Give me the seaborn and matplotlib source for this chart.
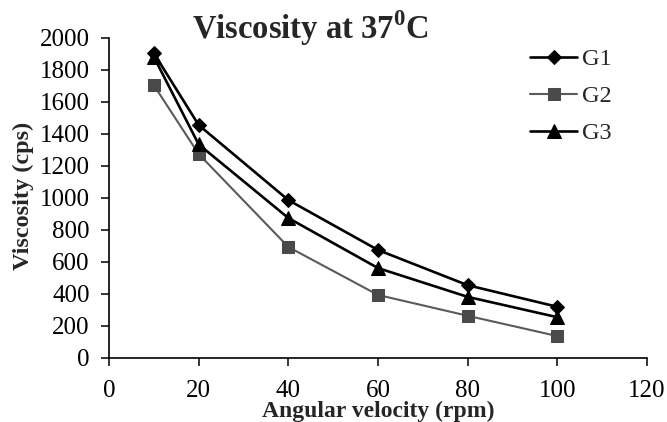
import matplotlib
matplotlib.use("Agg")
import matplotlib.pyplot as plt
import seaborn as sns
import pandas as pd

rpm = [10, 20, 40, 60, 80, 100]
g1 = [1905, 1456, 987, 675, 455, 320]
g2 = [1705, 1275, 694, 394, 264, 137]
g3 = [1882, 1335, 875, 562, 382, 255]
series = {"G1": g1, "G2": g2, "G3": g3}
x_ticks = [0, 20, 40, 60, 80, 100, 120]
y_ticks = [0, 200, 400, 600, 800, 1000, 1200, 1400, 1600, 1800, 2000]

sns.set_theme(style="ticks")
plt.rcParams["font.family"] = ["Liberation Serif", "DejaVu Serif"]
plt.rcParams["mathtext.fontset"] = "custom"
plt.rcParams["mathtext.rm"] = "Liberation Serif:bold"
plt.rcParams["mathtext.bf"] = "Liberation Serif:bold"

W, H = 667, 422
fig = plt.figure(figsize=(W / 100, H / 100), dpi=100)
ax = fig.add_axes([109 / W, 64 / H, 538 / W, 320 / H])

styles = {
    "G1": dict(color="black", face="black", marker="D", ms=7.5, lw=1.9),
    "G2": dict(color="#5a5a5a", face="#4a4a4a", marker="s", ms=9, lw=1.5),
    "G3": dict(color="black", face="black", marker="^", ms=9.5, lw=1.9),
}
for name, vals in series.items():
    df = pd.DataFrame({"rpm": rpm, "v": vals})
    st = styles[name]
    sns.lineplot(data=df, x="rpm", y="v", ax=ax, color=st["color"], marker=st["marker"],
                 markersize=st["ms"], linewidth=st["lw"],
                 markeredgecolor=st["face"], markerfacecolor=st["face"],
                 label=name)

ax.set_xlim(0, 120)
ax.set_ylim(0, 2000)
ax.set_xticks(x_ticks)
ax.set_yticks(y_ticks)
ax.tick_params(axis="both", labelsize=18, direction="out", length=5.5, width=1.1, colors="black")
ax.tick_params(axis="x", pad=10)
ax.tick_params(axis="y", pad=8.5)
for s in ["top", "right"]:
    ax.spines[s].set_visible(False)
for s in ["left", "bottom"]:
    ax.spines[s].set_linewidth(1.2)
    ax.spines[s].set_color("black")

ax.set_xlabel("Angular velocity (rpm)", fontsize=17, fontweight="bold")
ax.xaxis.set_label_coords(0.5, (358 - 411) / 320)
ax.xaxis.label.set_va("center")
ax.set_ylabel("Viscosity (cps)", fontsize=17.5, fontweight="bold")
ax.yaxis.set_label_coords((23 - 109) / 538, 0.506)
ax.yaxis.label.set_va("center")

fig.text(310 / W, 1 - 39 / H, r"Viscosity at 37$^{0}$C", fontsize=23.5, fontweight="bold",
         ha="center", va="baseline")

ax.legend(loc="upper left", bbox_to_anchor=(530 / W, 1 - 48 / H), bbox_transform=fig.transFigure,
          frameon=False, fontsize=17.5, handlelength=1.95, labelspacing=0.62, handletextpad=0.2,
          borderpad=0, borderaxespad=0)

fig.savefig("out.png", dpi=100)
